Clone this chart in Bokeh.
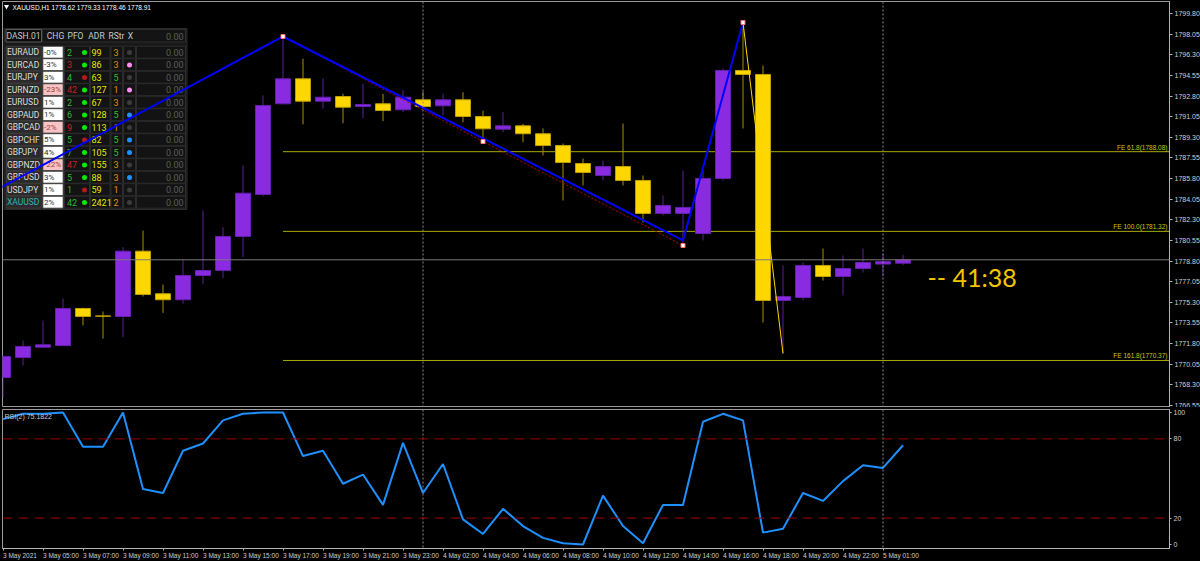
from bokeh.plotting import figure
from bokeh.layouts import column
from bokeh.models import FixedTicker, PrintfTickFormatter, Span, Label, Range1d
from bokeh.core.properties import value
from bokeh.embed import file_html
from bokeh.resources import INLINE

# ---------------- data ----------------
symbol = "XAUUSD,H1"
tick_bars = list(range(0, 46, 2))
tick_labels = ["3 May 2021", "3 May 05:00", "3 May 07:00", "3 May 09:00", "3 May 11:00",
               "3 May 13:00", "3 May 15:00", "3 May 17:00", "3 May 19:00", "3 May 21:00",
               "3 May 23:00", "4 May 02:00", "4 May 04:00", "4 May 06:00", "4 May 08:00",
               "4 May 10:00", "4 May 12:00", "4 May 14:00", "4 May 16:00", "4 May 18:00",
               "4 May 20:00", "4 May 22:00", "5 May 01:00"]
day_breaks = [21, 44]

opens = [1768.93, 1770.62, 1771.50, 1771.64, 1774.78, 1774.15, 1774.10, 1779.64, 1776.03, 1775.52,
         1777.58, 1778.00, 1780.89, 1784.45, 1792.14, 1794.26, 1792.36, 1792.76, 1791.91, 1792.14,
         1791.63, 1792.48, 1791.97, 1792.48, 1791.06, 1789.99, 1790.27, 1789.60, 1788.60, 1787.08,
         1786.06, 1786.82, 1785.64, 1782.84, 1782.84, 1781.14, 1785.81, 1794.97, 1794.63, 1775.46,
         1775.71, 1778.43, 1777.49, 1778.17, 1778.55, 1778.62]
highs = [1770.80, 1772.07, 1773.76, 1775.63, 1774.85, 1774.52, 1779.98, 1781.39, 1776.81, 1778.91,
         1783.09, 1781.67, 1786.91, 1792.85, 1797.85, 1795.96, 1794.31, 1792.99, 1793.84, 1792.99,
         1793.33, 1793.18, 1792.99, 1793.12, 1791.57, 1791.43, 1790.44, 1790.05, 1788.77, 1787.50,
         1787.33, 1790.47, 1786.06, 1784.36, 1786.48, 1786.48, 1795.14, 1799.04, 1795.39, 1778.43,
         1778.68, 1779.87, 1779.27, 1779.87, 1779.44, 1779.33]
lows = [1767.23, 1769.94, 1771.45, 1771.60, 1773.34, 1772.23, 1772.35, 1775.80, 1774.41, 1775.18,
        1776.87, 1777.38, 1779.13, 1784.30, 1792.10, 1790.39, 1791.72, 1790.50, 1790.92, 1790.67,
        1791.43, 1791.80, 1791.15, 1790.58, 1788.94, 1789.73, 1788.88, 1787.76, 1783.94, 1785.21,
        1785.64, 1785.21, 1782.07, 1782.67, 1780.12, 1780.55, 1785.64, 1790.05, 1773.59, 1770.96,
        1775.46, 1777.15, 1775.88, 1777.83, 1777.49, 1778.46]
closes = [1770.71, 1771.56, 1771.70, 1774.78, 1774.10, 1774.12, 1779.64, 1775.97, 1775.52, 1777.58,
          1778.00, 1780.89, 1784.56, 1792.00, 1794.26, 1792.36, 1792.70, 1791.85, 1792.08, 1791.57,
          1792.70, 1791.91, 1792.48, 1791.06, 1790.02, 1790.27, 1789.60, 1788.60, 1787.16, 1786.31,
          1786.82, 1785.64, 1782.84, 1783.52, 1783.35, 1785.81, 1794.97, 1794.63, 1775.46, 1775.80,
          1778.43, 1777.49, 1778.17, 1778.68, 1778.76, 1778.91]
rsi_vals = [95, 99, 99, 100, 74, 74, 100, 42, 39, 71, 76.5, 94, 99, 100, 100, 67, 71, 46, 53, 30,
            77, 39, 61, 19, 8, 27, 14, 5, 1, 0, 37, 14, 1, 30, 30, 93, 99, 94, 9, 12,
            39, 33, 48, 60, 58, 75.18]
rsi_label = "RSI(2) 75.1822"
rsi_levels = [20, 80]
rsi_ticks = [0, 20, 80, 100]

fe_levels = [1788.08, 1781.32, 1770.37]
fe_names = ["FE 61.8", "FE 100.0", "FE 161.8"]
fe_start_bar = 14

zz_blue_x = [-0.6, 14, 34, 37]
zz_blue_y = [1784.6, 1797.85, 1780.55, 1799.04]
zz_red_x = [14, 24, 34]
zz_red_y = [1797.85, 1788.94, 1780.12]
zz_yel_x = [37, 39]
zz_yel_y = [1799.04, 1770.96]
zz_pts_x = [14, 24, 34, 37]
zz_pts_y = [1797.85, 1788.94, 1780.12, 1799.04]

countdown = "--   41:38"

dash_symbols = ["EURAUD", "EURCAD", "EURJPY", "EURNZD", "EURUSD", "GBPAUD", "GBPCAD",
                "GBPCHF", "GBPJPY", "GBPNZD", "GBPUSD", "USDJPY", "XAUUSD"]
dash_chg = ["-0%", "-3%", "3%", "-23%", "1%", "1%", "-2%", "5%", "4%", "-22%", "3%", "1%", "2%"]
dash_pfo = [2, 3, 4, 42, 2, 6, 9, 5, 7, 47, 5, 1, 42]
dash_pfo_up = [True, False, True, False, True, True, False, True, True, False, True, True, True]
dash_dot_up = [True, True, False, True, True, True, True, False, True, True, True, False, True]
dash_adr = [99, 86, 63, 127, 67, 128, 113, 82, 105, 155, 88, 59, 2421]
dash_rstr = [3, 3, 5, 1, 3, 5, 1, 5, 5, 3, 3, 1, 2]
dash_x = ["off", "pink", "off", "pink", "off", "blue", "off", "blue", "blue", "off", "blue", "off", "off"]
dash_headers = ["DASH.01", "CHG", "PFO", "ADR", "RStr", "X"]
dash_value = "0.00"

# ---------------- geometry ----------------
LB = 2                 # left border px
FW = 1167
TOP1 = 1
FH1 = 406
FH2 = 139
PXB = 20.0             # px per bar
X0 = (LB - 2.5) / PXB
X1 = X0 + FW / PXB
PPU = 11.79            # px per price unit
Y_TOP = 1799.80 + (13 - TOP1) / PPU
Y_BOT = Y_TOP - FH1 / PPU
RPU = 1.32
R_TOP = 100 + 3 / RPU
R_BOT = R_TOP - FH2 / RPU


def dx(rx):
    return (rx - 2.5) / PXB


def dy(ry):
    return Y_TOP - (ry - TOP1) / PPU


BG = "#000000"
AX = "#b4b4b4"
FONT = value("Liberation Sans")

p1 = figure(frame_width=FW, frame_height=FH1, x_range=Range1d(X0, X1), y_range=Range1d(Y_BOT, Y_TOP),
            x_axis_location=None, y_axis_location="right", toolbar_location=None,
            output_backend="svg", background_fill_color=BG, border_fill_color=BG,
            min_border_left=LB, min_border_top=TOP1, min_border_bottom=0, min_border_right=0,
            outline_line_color="#9a9a9a")
p1.xgrid.visible = False
p1.ygrid.visible = False

yt = [round(1766.55 + 1.75 * k, 2) for k in range(20)]
p1.yaxis.ticker = FixedTicker(ticks=yt)
p1.yaxis.formatter = PrintfTickFormatter(format="%.2f")
ax = p1.yaxis[0]
ax.axis_line_color = AX
ax.major_tick_line_color = AX
ax.major_tick_out = 3
ax.major_tick_in = 0
ax.minor_tick_line_color = None
ax.major_label_text_color = "#cfcfcf"
ax.major_label_text_font = "Liberation Sans"
ax.major_label_text_font_size = "7px"
ax.major_label_standoff = 2

# day separators and current price
for b in day_breaks:
    p1.add_layout(Span(location=b, dimension="height", line_color="#8c8c8c", line_dash="2 2", line_width=1))
p1.add_layout(Span(location=closes[-1], dimension="width", line_color="#7a7a7a", line_width=1))

# FE levels
p1.segment(x0=[fe_start_bar] * 3, x1=[X1] * 3, y0=fe_levels, y1=fe_levels, line_color="#a8a800", line_width=1)
p1.text(x=[X1 - 0.1] * 3, y=fe_levels, text=["%s(%.2f)" % (n, v) for n, v in zip(fe_names, fe_levels)],
        text_color="#c8c800", text_font=FONT, text_font_size="6.5px", text_align="right",
        text_baseline="bottom", y_offset=-1)

# candles
bars = list(range(len(opens)))
up = [c >= o for o, c in zip(opens, closes)]
p1.segment(x0=bars, x1=bars, y0=lows, y1=highs,
           line_color=["#5b1ea0" if u else "#a88c00" for u in up], line_width=1)
p1.vbar(x=bars, width=0.75, top=[max(o, c) for o, c in zip(opens, closes)],
        bottom=[min(o, c) for o, c in zip(opens, closes)],
        fill_color=["#8a2be2" if u else "#ffd700" for u in up],
        line_color=["#6420b0" if u else "#c0a000" for u in up], line_width=1)

# dashboard
n = len(dash_symbols)
p1.quad(left=[dx(3.5)], right=[dx(186.5)], top=[dy(28)], bottom=[dy(209)], fill_color="#181818", line_color="#2a2a2a")
p1.quad(left=[dx(5.5), dx(42)], right=[dx(41), dx(185)], top=[dy(29)] * 2, bottom=[dy(41.5)] * 2,
        fill_color=["#0c0c0c", "#141414"], line_color=["#5a5a5a", "#2c2c2c"])
cols = [(5.7, 40.7), (42.3, 62.7), (64, 89), (90, 109.5), (110.5, 122), (123, 135), (136, 185)]
ql, qr, qt, qb, qf, qc = [], [], [], [], [], []
for r in range(n):
    top = 45.7 + 12.5 * r
    for ci, (a, b) in enumerate(cols):
        ql.append(dx(a)); qr.append(dx(b)); qt.append(dy(top)); qb.append(dy(top + 12))
        if ci == 0:
            qf.append("#2a2a2a"); qc.append("#3e3e3e")
        elif ci == 1:
            qf.append("#f6c4c4" if dash_chg[r].startswith("-2") else "#ffffff"); qc.append("#3e3e3e")
        else:
            qf.append("#131313"); qc.append("#2c2c2c")
p1.quad(left=ql, right=qr, top=qt, bottom=qb, fill_color=qf, line_color=qc)

RF = value("Roboto")
hx = [dx(23), dx(55), dx(75), dx(96), dx(116), dx(130)]
p1.text(x=hx, y=[dy(35.5)] * 6, text=dash_headers, text_color="#c8c8c8", text_font=RF,
        text_font_size="8.5px", text_align="center", text_baseline="middle")
p1.text(x=[dx(183)] * (n + 1), y=[dy(35.5)] + [dy(51.7 + 12.5 * r) for r in range(n)],
        text=[dash_value] * (n + 1), text_color="#5c5c5c", text_font=RF, text_font_size="9px",
        text_align="right", text_baseline="middle")
rys = [dy(51.9 + 12.5 * r) for r in range(n)]
p1.text(x=[dx(6.5)] * n, y=rys, text=dash_symbols,
        text_color=["#2ab8b8" if s == "XAUUSD" else "#dadada" for s in dash_symbols],
        text_font=RF, text_font_size="8.5px", text_align="left", text_baseline="middle")
p1.text(x=[dx(43.5)] * n, y=rys, text=dash_chg,
        text_color=["#a04040" if c.startswith("-2") else "#303030" for c in dash_chg],
        text_font=RF, text_font_size="8px", text_align="left", text_baseline="middle")
p1.text(x=[dx(66.5)] * n, y=rys, text=[str(v) for v in dash_pfo],
        text_color=["#2db82d" if u else "#c82222" for u in dash_pfo_up],
        text_font=RF, text_font_size="9px", text_align="left", text_baseline="middle")
p1.scatter(x=[dx(84)] * n, y=rys, size=5, marker="circle",
           fill_color=["#00ee00" if u else "#b51a1a" for u in dash_dot_up],
           line_color=None)
p1.text(x=[dx(91)] * n, y=rys, text=[str(v) for v in dash_adr], text_color="#e6e600",
        text_font=RF, text_font_size="9px", text_align="left", text_baseline="middle")
p1.text(x=[dx(113)] * n, y=rys, text=[str(v) for v in dash_rstr],
        text_color=["#33c033" if v == 5 else "#e09010" for v in dash_rstr],
        text_font=RF, text_font_size="9px", text_align="left", text_baseline="middle")
xcol = {"off": "#3c3c3c", "pink": "#ff8cf0", "blue": "#1e90ff"}
p1.scatter(x=[dx(129)] * n, y=rys, size=5, marker="circle",
           fill_color=[xcol[c] for c in dash_x], line_color=None)

# zigzag / expansion lines
p1.line(zz_red_x, zz_red_y, line_color="#c00000", line_dash="2 2", line_width=1)
p1.line(zz_blue_x, zz_blue_y, line_color="#0000ff", line_width=2)
p1.line(zz_yel_x, zz_yel_y, line_color="#ffd700", line_width=1)
p1.scatter(zz_pts_x, zz_pts_y, marker="square", size=4, fill_color="#ffffff", line_color="#ff7070")

# header
p1.scatter([dx(6)], [dy(6)], marker="inverted_triangle", size=5, fill_color="#ffffff", line_color=None)
p1.text(x=[dx(12)], y=[dy(6.5)],
        text=["%s  %.2f %.2f %.2f %.2f" % (symbol, opens[-1], highs[-1], lows[-1], closes[-1])],
        text_color="#ffffff", text_font=FONT, text_font_size="6.5px", text_align="left", text_baseline="middle")

# countdown
p1.text(x=[dx(927)], y=[dy(276)], text=[countdown], text_color="#f2c500", text_font=value("Lato"),
        text_font_size="25px", text_align="left", text_baseline="middle")

# price box on axis
p1.add_layout(Label(x=X1, y=closes[-1], x_offset=3, text="%.2f" % closes[-1], text_color="#000000",
                    text_font="Liberation Sans", text_font_size="7px", text_baseline="middle",
                    background_fill_color="#ffffff", border_line_color="#c0c0c0"))

# ---------------- RSI panel ----------------
p2 = figure(frame_width=FW, frame_height=FH2, x_range=p1.x_range, y_range=Range1d(R_BOT, R_TOP),
            x_axis_location="below", y_axis_location="right", toolbar_location=None,
            output_backend="svg", background_fill_color=BG, border_fill_color=BG,
            min_border_left=LB, min_border_top=2, min_border_bottom=0, min_border_right=0,
            outline_line_color="#9a9a9a")
p2.xgrid.visible = False
p2.ygrid.visible = False
p2.yaxis.ticker = FixedTicker(ticks=rsi_ticks)
p2.xaxis.ticker = FixedTicker(ticks=tick_bars)
p2.xaxis.major_label_overrides = {b: l for b, l in zip(tick_bars, tick_labels)}
for ax in [p2.yaxis[0], p2.xaxis[0]]:
    ax.axis_line_color = AX
    ax.major_tick_line_color = AX
    ax.major_tick_out = 2
    ax.major_tick_in = 0
    ax.minor_tick_line_color = None
    ax.major_label_text_color = "#cfcfcf"
    ax.major_label_text_font = "Liberation Sans"
    ax.major_label_text_font_size = "7px"
    ax.major_label_standoff = 2
p2.xaxis.major_label_text_font_size = "6.5px"
p2.xaxis.major_label_orientation = -0.0001
p2.xaxis.major_label_standoff = 5
for b in day_breaks:
    p2.add_layout(Span(location=b, dimension="height", line_color="#8c8c8c", line_dash="2 2", line_width=1))
for lv in rsi_levels:
    p2.add_layout(Span(location=lv, dimension="width", line_color="#9a0000", line_dash="10 6", line_width=1))
p2.line(bars, rsi_vals, line_color="#1e90ff", line_width=2)
p2.add_layout(Label(x=dx(4), y=R_TOP - 7 / RPU, text=rsi_label, text_color="#c8c8c8",
                    text_font="Liberation Sans", text_font_size="7px", text_baseline="middle"))

layout = column(p1, p2, spacing=0)
tmpl = """{% block preamble %}<style>html,body{background:#000000;}</style>{% endblock %}"""
open("out.html", "w").write(file_html(layout, INLINE, template=tmpl))
